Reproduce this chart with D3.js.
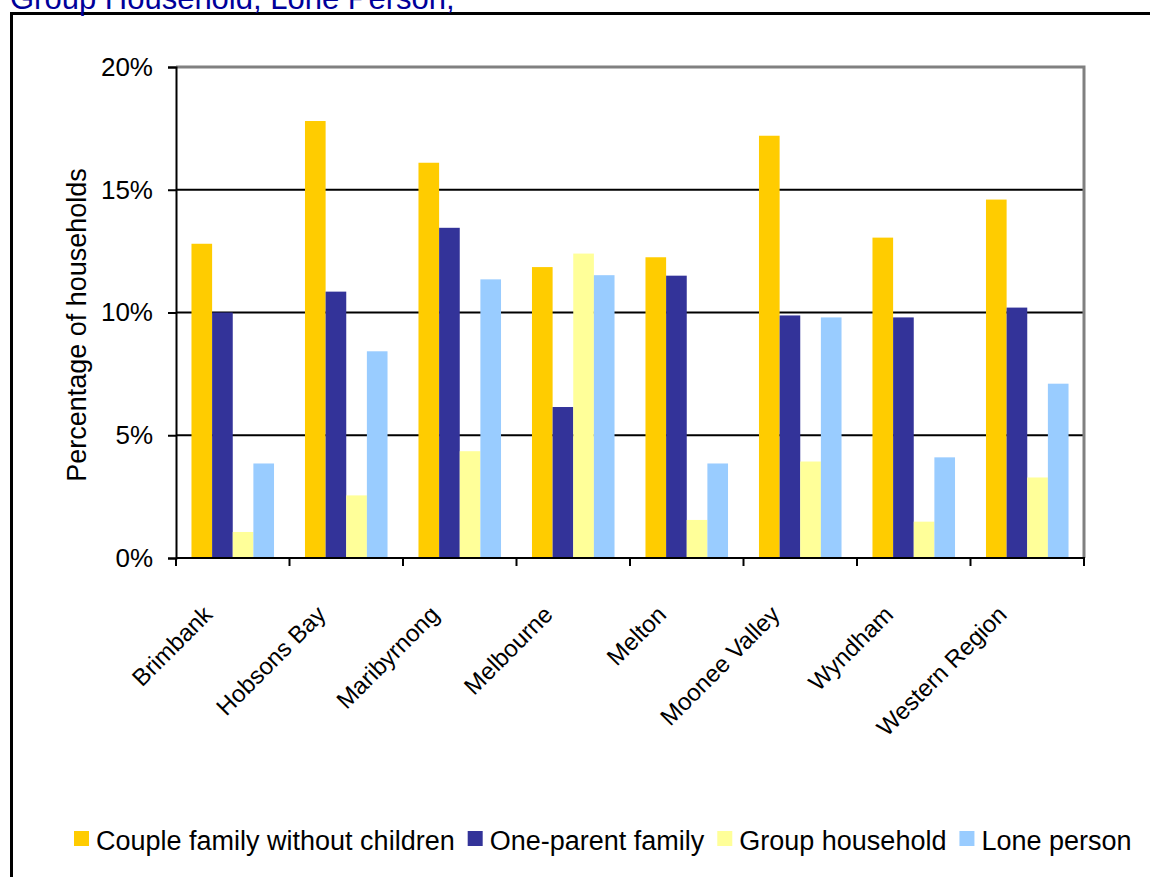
<!DOCTYPE html>
<html>
<head>
<meta charset="utf-8">
<script src="https://cdn.jsdelivr.net/npm/d3@7"></script>
<style>
  html, body { margin: 0; padding: 0; background: #fff; overflow: hidden; }
  svg { display: block; font-family: Arial, "Liberation Sans", sans-serif; }
</style>
</head>
<body>
<svg id="chart" width="1150" height="877"></svg>
<script>
// ---- Data ----
const categories = ["Brimbank", "Hobsons Bay", "Maribyrnong", "Melbourne", "Melton", "Moonee Valley", "Wyndham", "Western Region"];
const seriesNames = ["Couple family without children", "One-parent family", "Group household", "Lone person"];
const coupleNoChildren = [12.8, 17.8, 16.1, 11.85, 12.25, 17.2, 13.05, 14.6];
const oneParent       = [10.0, 10.85, 13.45, 6.15, 11.5, 9.88, 9.8, 10.2];
const groupHousehold  = [1.06, 2.55, 4.35, 12.4, 1.55, 3.93, 1.48, 3.28];
const lonePerson      = [3.85, 8.42, 11.35, 11.52, 3.85, 9.8, 4.1, 7.1];
const yTicks = [0, 5, 10, 15, 20];
const titleText = "Group Household, Lone Person,";
const yAxisTitle = "Percentage of households";
const colors = ["#FFCC00", "#333399", "#FFFF99", "#99CCFF"];

const seriesValues = [coupleNoChildren, oneParent, groupHousehold, lonePerson];

// ---- Layout ----
const svg = d3.select("#chart");
const pLeft = 176, pRight = 1084, pTop = 67, pBottom = 558;

// Outer frame
svg.append("path")
  .attr("d", `M11.5,877 L11.5,13.5 L1150,13.5`)
  .attr("fill", "none").attr("stroke", "#000").attr("stroke-width", 3);

// Title (partly cut off at the top, as in the source)
svg.append("text")
  .attr("x", 10).attr("y", 9)
  .attr("fill", "#000099")
  .attr("font-size", 31)
  .text(titleText);

const x0 = d3.scaleBand().domain(categories).range([pLeft, pRight]).paddingInner(0).paddingOuter(0);
const x1 = d3.scaleBand().domain(seriesNames).range([0, x0.bandwidth()]).paddingInner(0).paddingOuter(0.75);
const y = d3.scaleLinear().domain([0, 20]).range([pBottom, pTop]);

// Gridlines
svg.append("g").selectAll("line").data(yTicks.filter(t => t > 0 && t < 20)).join("line")
  .attr("x1", pLeft).attr("x2", pRight)
  .attr("y1", d => y(d)).attr("y2", d => y(d))
  .attr("stroke", "#000").attr("stroke-width", 2);

// Plot area border (top, right) gray
svg.append("path")
  .attr("d", `M${pLeft},${y(20)} L${pRight},${y(20)} L${pRight},${pBottom}`)
  .attr("fill", "none").attr("stroke", "#808080").attr("stroke-width", 3);

// Bars
const data = [];
categories.forEach((c, i) => {
  seriesNames.forEach((s, j) => {
    data.push({ cat: c, series: s, value: seriesValues[j][i], color: colors[j] });
  });
});
svg.append("g").selectAll("rect").data(data).join("rect")
  .attr("x", d => x0(d.cat) + x1(d.series))
  .attr("width", x1.bandwidth())
  .attr("y", d => y(d.value))
  .attr("height", d => y(0) - y(d.value))
  .attr("fill", d => d.color);

// Y axis
const yAxis = d3.axisLeft(y).tickValues(yTicks).tickFormat(d => d + "%").tickSizeOuter(0).tickSize(8).tickPadding(15);
const gy = svg.append("g").attr("transform", `translate(${pLeft},0)`).call(yAxis);
gy.select(".domain").attr("stroke", "#000").attr("stroke-width", 2);
gy.selectAll(".tick line").attr("stroke", "#000").attr("stroke-width", 2);
gy.selectAll(".tick text").attr("font-size", 26).attr("fill", "#000").attr("font-family", "Arial, 'Liberation Sans', sans-serif");

// X axis line and ticks at category boundaries
const boundaries = categories.map(c => x0(c)).concat([pRight]);
svg.append("line").attr("x1", pLeft).attr("x2", pRight + 1).attr("y1", pBottom).attr("y2", pBottom)
  .attr("stroke", "#000").attr("stroke-width", 2);
svg.append("g").selectAll("line").data(boundaries).join("line")
  .attr("x1", d => d).attr("x2", d => d).attr("y1", pBottom).attr("y2", pBottom + 8)
  .attr("stroke", "#000").attr("stroke-width", 2);

// X labels rotated
svg.append("g").selectAll("text").data(categories).join("text")
  .attr("transform", d => `translate(${x0(d) + x0.bandwidth() / 2 - 19},616) rotate(-45)`)
  .attr("text-anchor", "end")
  .attr("font-size", 24)
  .attr("fill", "#000")
  .text(d => d);

// Y axis title
svg.append("text")
  .attr("transform", `translate(86,325) rotate(-90)`)
  .attr("text-anchor", "middle")
  .attr("font-size", 27)
  .attr("fill", "#000")
  .text(yAxisTitle);

// Legend
const legend = svg.append("g");
let lx = 74;
seriesNames.forEach((s, j) => {
  legend.append("rect").attr("x", lx).attr("y", 831).attr("width", 15).attr("height", 15).attr("fill", colors[j]);
  const t = legend.append("text").attr("x", lx + 22).attr("y", 850).attr("font-size", 27).attr("fill", "#000").text(s);
  lx += 22 + t.node().getComputedTextLength() + 13;
});
</script>
</body>
</html>
